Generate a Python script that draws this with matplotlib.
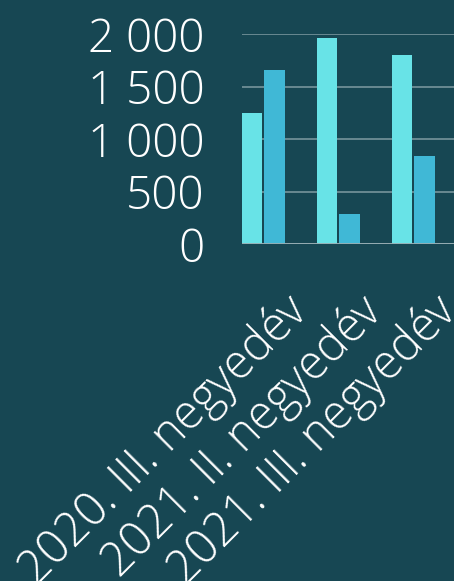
# bar chart: quarterly values, three series, dark teal theme
import numpy as np
import matplotlib.pyplot as plt
from matplotlib.transforms import ScaledTranslation
from matplotlib.ticker import FuncFormatter

# ── Data ──────────────────────────────────────────────────────────────────────
categories = ['2020. III. negyedév', '2021. II. negyedév', '2021. III. negyedév']
series_a = [1250, 1960, 1800]   # light cyan
series_b = [1660, 285, 840]     # mid blue
series_c = [8, 8, 8]            # almost zero
yticks = [0, 500, 1000, 1500, 2000]

# ── Style ─────────────────────────────────────────────────────────────────────
BG = '#174753'
C_A = '#68E3E7'
C_B = '#40B8D6'
C_C = '#5E93A3'
GRID = '#6F8E96'
plt.rcParams['font.family'] = ['Open Sans', 'DejaVu Sans']

fig = plt.figure(figsize=(4.54, 5.81), dpi=100, facecolor=BG)
ax = fig.add_axes([0.533, 0.580, 0.4736, 0.3614], facecolor=BG)

x = np.arange(len(categories))
w = 0.27
off = 0.30
ax.bar(x - off, series_a, w, color=C_A, zorder=3)
ax.bar(x, series_b, w, color=C_B, zorder=3)
ax.bar(x + off, series_c, w, color=C_C, zorder=3)

ax.set_xlim(-0.435, 2.435)
ax.set_ylim(0, 2000)
ax.set_yticks(yticks)
ax.yaxis.set_major_formatter(FuncFormatter(lambda v, p: f'{int(v):,}'.replace(',', ' ')))
ax.grid(axis='y', color=GRID, linewidth=1.3, zorder=0)
ax.axhline(0, color='#9AAEB3', linewidth=2, zorder=4)

for s in ax.spines.values():
    s.set_visible(False)

ax.tick_params(axis='y', length=0, pad=27, labelsize=33, labelcolor='white')
ax.tick_params(axis='x', length=0, pad=31, labelsize=33.5, labelcolor='white')
for lbl in ax.get_yticklabels():
    lbl.set_fontweight('light')

ax.set_xticks(x)
ax.set_xticklabels(categories, rotation=45, ha='right', va='top',
                   rotation_mode='anchor', fontweight='light')
shift = ScaledTranslation(0.08, 0, fig.dpi_scale_trans)
for lbl in ax.get_xticklabels():
    lbl.set_transform(lbl.get_transform() + shift)

plt.savefig('out.png', dpi=100, facecolor=BG)
